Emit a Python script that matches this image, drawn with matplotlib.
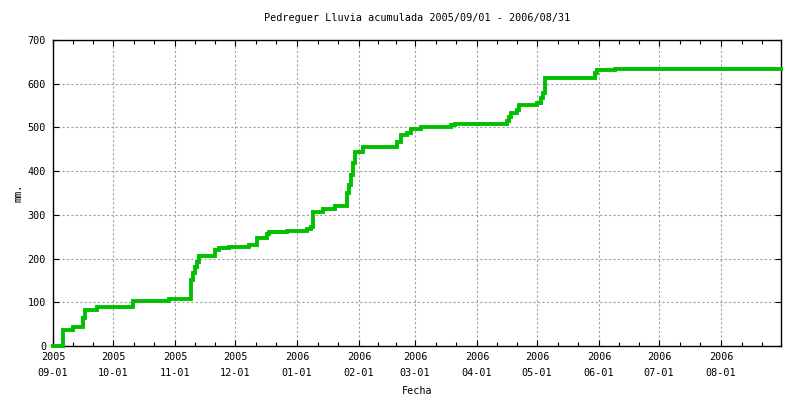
import matplotlib
matplotlib.use("Agg")
import matplotlib.pyplot as plt
import datetime as dt

# Cumulative rainfall (mm) — step changes
dates = [
    "2005-09-01", "2005-09-06", "2005-09-11", "2005-09-16", "2005-09-17",
    "2005-09-23", "2005-10-11", "2005-10-29", "2005-11-09", "2005-11-10",
    "2005-11-11", "2005-11-12", "2005-11-13", "2005-11-21", "2005-11-23",
    "2005-11-28", "2005-12-08", "2005-12-12", "2005-12-17", "2005-12-18",
    "2005-12-27", "2006-01-06", "2006-01-08", "2006-01-09", "2006-01-14",
    "2006-01-20", "2006-01-26", "2006-01-27", "2006-01-28", "2006-01-29",
    "2006-01-30", "2006-02-03", "2006-02-20", "2006-02-22", "2006-02-25",
    "2006-02-27", "2006-03-04", "2006-03-19", "2006-03-21", "2006-04-16",
    "2006-04-17", "2006-04-18", "2006-04-21", "2006-04-22", "2006-05-01",
    "2006-05-03", "2006-05-04", "2006-05-05", "2006-05-30", "2006-05-31",
    "2006-06-09", "2006-08-31",
]
rain_mm = [
    0, 37, 43, 65, 82,
    89, 103, 107, 150, 166,
    180, 192, 206, 220, 225,
    227, 231, 247, 256, 260,
    263, 267, 272, 307, 313,
    320, 350, 368, 391, 418,
    443, 455, 467, 483, 487,
    496, 500, 505, 508, 515,
    523, 533, 540, 551, 556,
    567, 578, 613, 624, 632,
    634, 634,
]
month_starts = ["2005-09-01", "2005-10-01", "2005-11-01", "2005-12-01",
                "2006-01-01", "2006-02-01", "2006-03-01", "2006-04-01",
                "2006-05-01", "2006-06-01", "2006-07-01", "2006-08-01"]
y_ticks = [0, 100, 200, 300, 400, 500, 600, 700]
title = "Pedreguer Lluvia acumulada 2005/09/01 - 2006/08/31"

FONT = "DejaVu Sans Mono"
FS = 7.3

x = [dt.datetime.strptime(d, "%Y-%m-%d") for d in dates]
xstart = dt.datetime(2005, 9, 1)
xend = dt.datetime(2006, 8, 31)

fig = plt.figure(figsize=(8, 4), dpi=100)
ax = fig.add_axes([53/800, 54/400, (781-53)/800, (346-40)/400])

ax.step(x, rain_mm, where="post", color="#00c000", lw=2.8, solid_joinstyle="miter", zorder=3, clip_on=False)

ax.set_xlim(xstart, xend)
ax.set_ylim(0, 700)

mt = [dt.datetime.strptime(d, "%Y-%m-%d") for d in month_starts]
ax.set_xticks(mt)
ax.set_xticklabels([m.strftime("%Y\n%m-%d") for m in mt], fontfamily=FONT, fontsize=FS, linespacing=1.85)
edges = mt + [dt.datetime(2006, 9, 1)]
minors = []
for a, b in zip(edges[:-1], edges[1:]):
    step = (b - a) / 3
    minors += [a + step, a + 2 * step]
ax.set_xticks(minors, minor=True)

ax.set_yticks(y_ticks)
ax.set_yticklabels([str(v) for v in y_ticks], fontfamily=FONT, fontsize=FS)

ax.tick_params(axis="both", which="major", direction="in", length=4, width=0.8,
               top=True, right=True, pad=5, colors="black")
ax.tick_params(axis="x", which="minor", direction="in", length=3, width=0.8,
               top=True, bottom=True)
ax.tick_params(axis="x", which="major", pad=4)

ax.grid(True, which="major", color="#a0a0a0", linestyle=(0, (2, 2)), linewidth=0.8)
for s in ax.spines.values():
    s.set_linewidth(1.0)
    s.set_color("black")

fig.text((53+781)/2/800, 1 - 18/400, title, ha="center", va="center", fontfamily=FONT, fontsize=FS)
fig.text((53+781)/2/800, 1 - 391/400, "Fecha", ha="center", va="center", fontfamily=FONT, fontsize=FS)
fig.text(18/800, 1 - 193/400, "mm.", ha="center", va="center", rotation=90, fontfamily=FONT, fontsize=FS)

fig.savefig("out.png", dpi=100)
